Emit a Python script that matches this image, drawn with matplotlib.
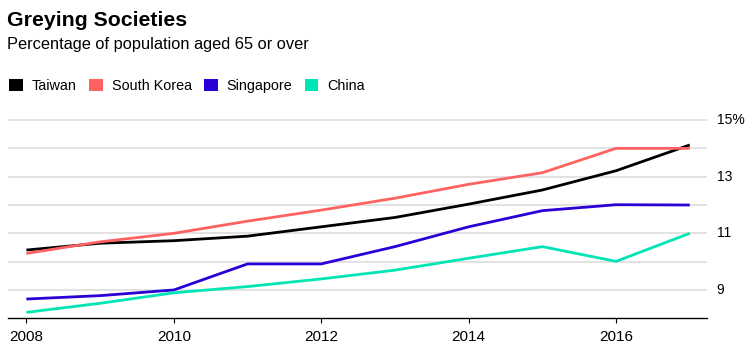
import matplotlib
matplotlib.use("Agg")
import matplotlib.pyplot as plt
from matplotlib.patches import Patch

years = [2008, 2009, 2010, 2011, 2012, 2013, 2014, 2015, 2016, 2017]
taiwan = [10.41, 10.65, 10.74, 10.9, 11.23, 11.56, 12.03, 12.53, 13.21, 14.12]
south_korea = [10.29, 10.7, 11.0, 11.43, 11.82, 12.24, 12.73, 13.14, 14.0, 14.0]
singapore = [8.68, 8.8, 9.0, 9.92, 9.92, 10.53, 11.23, 11.8, 12.01, 12.0]
china = [8.21, 8.53, 8.9, 9.12, 9.39, 9.7, 10.12, 10.53, 10.01, 11.0]

series = [("Taiwan", taiwan, "#000000"),
          ("South Korea", south_korea, "#ff6361"),
          ("Singapore", singapore, "#2a00d6"),
          ("China", china, "#00e5b5")]

xtick_years = [2008, 2010, 2012, 2014, 2016]
ytick_vals = [9, 11, 13, 15]
ytick_labels = ["9", "11", "13", "15%"]
grid_vals = [9, 10, 11, 12, 13, 14, 15]

plt.rcParams['font.family'] = ['Liberation Sans', 'DejaVu Sans']

W, H = 753, 356
fig = plt.figure(figsize=(W / 100, H / 100), dpi=100)
ax = fig.add_axes([8 / W, 1 - 318.3 / H, (706.7 - 8) / W, (318.3 - 117.2) / H])

for v in grid_vals:
    ax.axhline(v, color="#dddddd", lw=1.2, zorder=0)

for name, vals, col in series:
    ax.plot(years, vals, color=col, lw=2.0, label=name, solid_capstyle='butt', zorder=3)

ax.set_xlim(2007.75, 2017.23)
ax.set_ylim(8, 15.1)

for s in ["top", "left", "right"]:
    ax.spines[s].set_visible(False)
ax.spines["bottom"].set_color("#000000")
ax.spines["bottom"].set_linewidth(1.0)

ax.set_xticks(xtick_years)
ax.set_xticklabels([str(y) for y in xtick_years])
ax.tick_params(axis="x", direction="out", length=3.6, width=0.8, pad=5,
               labelsize=11, colors="#000000")

ax.yaxis.tick_right()
ax.set_yticks(ytick_vals)
ax.set_yticklabels(ytick_labels)
ax.tick_params(axis="y", length=0, pad=7.2, labelsize=10, colors="#000000")
for lbl in ax.get_yticklabels():
    lbl.set_verticalalignment("center")

fig.text(7 / W, 1 - 26 / H, "Greying Societies", fontsize=15.3, fontweight="bold",
         va="baseline", ha="left", color="#000000")
fig.text(7 / W, 1 - 49.3 / H, "Percentage of population aged 65 or over", fontsize=11.8,
         va="baseline", ha="left", color="#000000")

handles = [Patch(facecolor=col, edgecolor="none", label=name) for name, _, col in series]
fig.legend(handles=handles, loc="center left", bbox_to_anchor=(9.3 / W, 1 - 85.7 / H),
           ncol=4, frameon=False, fontsize=10.4, handlelength=0.93, handleheight=0.93,
           handletextpad=0.62, columnspacing=0.87, borderaxespad=0, borderpad=0)

fig.savefig("out.png", dpi=100)
plt.close(fig)
